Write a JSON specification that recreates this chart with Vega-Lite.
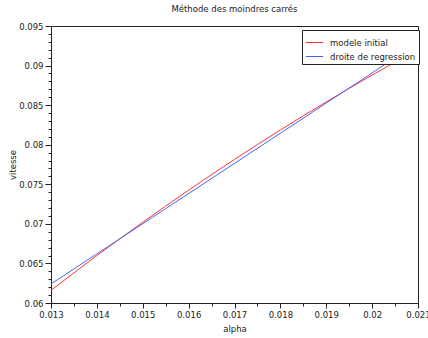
{
  "$schema": "https://vega.github.io/schema/vega-lite/v6.json",
  "autosize": "none",
  "width": 367,
  "height": 277,
  "padding": {"left": 51, "top": 26, "right": 10, "bottom": 35},
  "background": "white",
  "config": {
    "font": "DejaVu Sans",
    "view": {"stroke": "#222222", "strokeWidth": 1},
    "axis": {
      "domainColor": "#222222",
      "tickColor": "#222222",
      "labelColor": "#222222",
      "titleColor": "#222222",
      "labelFontSize": 8.5,
      "titleFontSize": 8.5,
      "titleFontWeight": "normal",
      "grid": false
    }
  },
  "title": {
    "text": "Méthode des moindres carrés",
    "fontSize": 8.5,
    "fontWeight": "normal",
    "color": "#222222",
    "anchor": "middle",
    "offset": 9
  },
  "data": {
    "values": [
      {"serie": "modele initial", "alpha": 0.013, "vitesse": 0.0616},
      {"serie": "modele initial", "alpha": 0.0135, "vitesse": 0.06381},
      {"serie": "modele initial", "alpha": 0.014, "vitesse": 0.06599},
      {"serie": "modele initial", "alpha": 0.0145, "vitesse": 0.06812},
      {"serie": "modele initial", "alpha": 0.015, "vitesse": 0.0702},
      {"serie": "modele initial", "alpha": 0.0155, "vitesse": 0.07225},
      {"serie": "modele initial", "alpha": 0.016, "vitesse": 0.07426},
      {"serie": "modele initial", "alpha": 0.0165, "vitesse": 0.07622},
      {"serie": "modele initial", "alpha": 0.017, "vitesse": 0.07814},
      {"serie": "modele initial", "alpha": 0.0175, "vitesse": 0.08002},
      {"serie": "modele initial", "alpha": 0.018, "vitesse": 0.08186},
      {"serie": "modele initial", "alpha": 0.0185, "vitesse": 0.08366},
      {"serie": "modele initial", "alpha": 0.019, "vitesse": 0.08541},
      {"serie": "modele initial", "alpha": 0.0195, "vitesse": 0.08712},
      {"serie": "modele initial", "alpha": 0.02, "vitesse": 0.0888},
      {"serie": "modele initial", "alpha": 0.0205, "vitesse": 0.09043},
      {"serie": "modele initial", "alpha": 0.021, "vitesse": 0.09201},
      {"serie": "droite de regression", "alpha": 0.013, "vitesse": 0.0624},
      {"serie": "droite de regression", "alpha": 0.021, "vitesse": 0.09288}
    ]
  },
  "mark": {"type": "line", "strokeWidth": 1, "clip": true},
  "encoding": {
    "x": {
      "field": "alpha",
      "type": "quantitative",
      "title": "alpha",
      "scale": {"domain": [0.013, 0.021], "nice": false, "zero": false},
      "axis": {
        "values": [0.013, 0.0135, 0.014, 0.0145, 0.015, 0.0155, 0.016, 0.0165, 0.017, 0.0175, 0.018, 0.0185, 0.019, 0.0195, 0.02, 0.0205, 0.021],
        "labelExpr": "abs(datum.value * 1000 - round(datum.value * 1000)) < 1e-6 ? format(datum.value, '~g') : ''",
        "tickSize": {"condition": {"test": "abs(datum.value * 1000 - round(datum.value * 1000)) < 1e-6", "value": 5}, "value": 3},
        "labelPadding": 2,
        "labelFlush": false,
        "titleY": 25,
        "titleBaseline": "middle"
      }
    },
    "y": {
      "field": "vitesse",
      "type": "quantitative",
      "title": "vitesse",
      "scale": {"domain": [0.06, 0.095], "nice": false, "zero": false},
      "axis": {
        "values": [0.06, 0.061, 0.062, 0.063, 0.064, 0.065, 0.066, 0.067, 0.068, 0.069, 0.07, 0.071, 0.072, 0.073, 0.074, 0.075, 0.076, 0.077, 0.078, 0.079, 0.08, 0.081, 0.082, 0.083, 0.084, 0.085, 0.086, 0.087, 0.088, 0.089, 0.09, 0.091, 0.092, 0.093, 0.094, 0.095],
        "labelExpr": "abs(datum.value * 200 - round(datum.value * 200)) < 1e-6 ? format(datum.value, '~g') : ''",
        "tickSize": {"condition": {"test": "abs(datum.value * 200 - round(datum.value * 200)) < 1e-6", "value": 6}, "value": 3},
        "labelPadding": 2,
        "labelFlush": false,
        "titleX": -39,
        "titleAngle": -90,
        "titleBaseline": "middle"
      }
    },
    "color": {
      "field": "serie",
      "type": "nominal",
      "scale": {"domain": ["modele initial", "droite de regression"], "range": ["#ff3333", "#4466ff"]},
      "legend": {
        "title": null,
        "orient": "none",
        "legendX": 251,
        "legendY": 4,
        "symbolType": "stroke",
        "symbolSize": 300,
        "symbolStrokeWidth": 1,
        "labelFontSize": 8.5,
        "labelColor": "#222222",
        "labelLimit": 200,
        "strokeColor": "#222222",
        "fillColor": "white",
        "padding": 3,
        "rowPadding": 0,
        "labelOffset": 6
      }
    }
  }
}
